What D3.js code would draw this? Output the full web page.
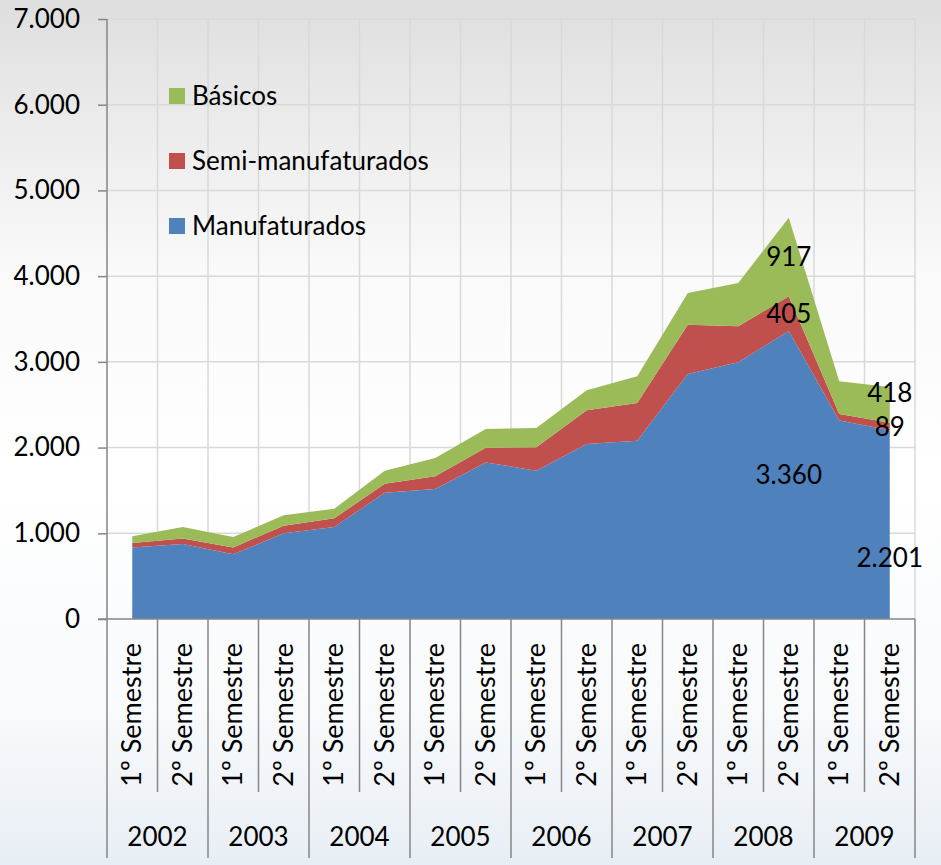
<!DOCTYPE html>
<html>
<head>
<meta charset="utf-8">
<script src="https://cdn.jsdelivr.net/npm/d3@7"></script>
<style>
  html, body { margin: 0; padding: 0; }
  body { width: 941px; height: 865px; overflow: hidden; }
  svg text { font-family: Lato, "Open Sans", sans-serif; fill: #000; }
</style>
</head>
<body>
<div id="chart"></div>
<script>
// semesters 2002..2009
var years = ["2002", "2003", "2004", "2005", "2006", "2007", "2008", "2009"];
var semesters = ["1º Semestre", "2º Semestre"];

var manufaturados = [835, 875, 754, 999, 1073, 1474, 1517, 1827, 1731, 2042, 2081, 2859, 2994, 3360, 2317, 2201];
var semiManufaturados = [52, 65, 81, 90, 101, 105, 147, 172, 272, 392, 439, 575, 420, 405, 75, 89];
var basicos = [77, 133, 122, 120, 113, 151, 215, 218, 226, 234, 311, 370, 507, 917, 381, 418];

var yTicks = [0, 1000, 2000, 3000, 4000, 5000, 6000, 7000];
var labelPoints = [13, 15];   // points with data labels

var seriesNames = ["Manufaturados", "Semi-manufaturados", "Básicos"];
var colors = ["#4f81bd", "#c0504d", "#9bbb59"];

var W = 941, H = 865;
var margin = {top: 19, right: 26, bottom: 246, left: 107};
var width = W - margin.left - margin.right,
    height = H - margin.top - margin.bottom;

var pt = d3.formatLocale({decimal: ",", thousands: ".", grouping: [3], currency: ["", ""]});
var fmt = pt.format(",d");

// build table rows
var cats = [];
years.forEach(function(y) {
    semesters.forEach(function(s) { cats.push(y + " " + s); });
});
var rows = cats.map(function(c, i) {
    return {cat: c, sem: semesters[i % 2], m: manufaturados[i], s: semiManufaturados[i], b: basicos[i]};
});

var svg = d3.select("#chart").append("svg")
    .attr("width", W)
    .attr("height", H);

// background
var grad = svg.append("defs").append("linearGradient")
    .attr("id", "bg").attr("x1", 0).attr("y1", 0).attr("x2", 0).attr("y2", 1);
[[0, "#dedede"], [0.14, "#ebebeb"], [0.32, "#fafafa"], [0.55, "#ffffff"], [0.82, "#f8fafc"], [1, "#e8eef5"]]
    .forEach(function(s) { grad.append("stop").attr("offset", s[0]).attr("stop-color", s[1]); });
svg.append("rect").attr("width", W).attr("height", H).attr("fill", "url(#bg)");

var g = svg.append("g")
    .attr("transform", "translate(" + margin.left + "," + margin.top + ")");

var x = d3.scaleBand().domain(cats).range([0, width]).padding(0);
var y = d3.scaleLinear().domain([0, 7000]).range([height, 0]);
var cx = function(c) { return x(c) + x.bandwidth() / 2; };

// gridlines
g.append("g").selectAll("line.h")
    .data(yTicks.slice(1)).enter().append("line")
    .attr("x1", 0).attr("x2", width)
    .attr("y1", function(d) { return y(d); }).attr("y2", function(d) { return y(d); })
    .attr("stroke", "#d9d9d9").attr("stroke-width", 1.5);
var bounds = cats.map(function(c) { return x(c); }).concat([width]);
g.append("g").selectAll("line.v")
    .data(bounds.slice(1)).enter().append("line")
    .attr("x1", function(d) { return d; }).attr("x2", function(d) { return d; })
    .attr("y1", 0).attr("y2", height)
    .attr("stroke", "#d9d9d9").attr("stroke-width", 1.5);

// stacked areas
var stack = d3.stack().keys(["m", "s", "b"]);
var layers = stack(rows);
var area = d3.area()
    .x(function(d) { return cx(d.data.cat); })
    .y0(function(d) { return y(d[0]); })
    .y1(function(d) { return y(d[1]); });

g.selectAll("path.layer")
    .data(layers).enter().append("path")
    .attr("class", "layer")
    .attr("d", area)
    .attr("fill", function(d, i) { return colors[i]; });

// y axis
var yAxis = g.append("g")
    .call(d3.axisLeft(y).tickValues(yTicks).tickFormat(fmt).tickSize(9).tickPadding(18));
yAxis.select(".domain").remove();
yAxis.selectAll(".tick line").attr("stroke", "#868686").attr("stroke-width", 1.5);
yAxis.selectAll(".tick text").style("font-size", "26px").style("font-family", "Lato, sans-serif");
g.append("line").attr("x1", 0).attr("x2", 0).attr("y1", 0).attr("y2", height + 239)
    .attr("stroke", "#868686").attr("stroke-width", 1.5);

// x axis with two level categories
g.append("line").attr("x1", -9).attr("x2", width).attr("y1", height).attr("y2", height)
    .attr("stroke", "#868686").attr("stroke-width", 1.5);
g.append("g").selectAll("line.cat")
    .data(bounds.slice(1)).enter().append("line")
    .attr("x1", function(d) { return d; }).attr("x2", function(d) { return d; })
    .attr("y1", height)
    .attr("y2", function(d, i) { return (i % 2 === 1) ? height + 239 : height + 173; })
    .attr("stroke", "#868686").attr("stroke-width", 1.5);

g.append("g").selectAll("text.sem")
    .data(rows).enter().append("text")
    .attr("transform", function(d) { return "translate(" + (cx(d.cat) + 9) + "," + (height + 24) + ") rotate(-90)"; })
    .attr("text-anchor", "end")
    .style("font-size", "27px")
    .text(function(d) { return d.sem; });

g.append("g").selectAll("text.year")
    .data(years).enter().append("text")
    .attr("x", function(d, i) { return x(cats[i * 2 + 1]); })
    .attr("y", height + 227)
    .attr("text-anchor", "middle")
    .style("font-size", "26px")
    .text(function(d) { return d; });

// data labels (centre of each band, last point nudged like the original)
var nudge = {"15-0": 33, "15-2": -12};
labelPoints.forEach(function(p) {
    layers.forEach(function(layer, k) {
        var d = layer[p];
        var ly = (y(d[0]) + y(d[1])) / 2 + (nudge[p + "-" + k] || 0);
        g.append("text")
            .attr("x", cx(d.data.cat))
            .attr("y", ly)
            .attr("dy", "0.35em")
            .attr("text-anchor", "middle")
            .style("font-size", "26px")
            .text(fmt(d[1] - d[0]));
    });
});

// legend
var legend = g.append("g").attr("transform", "translate(62,69)");
var legendOrder = [2, 1, 0];
legendOrder.forEach(function(k, i) {
    var row = legend.append("g").attr("transform", "translate(0," + (i * 65) + ")");
    row.append("rect").attr("width", 16).attr("height", 16).attr("fill", colors[k]);
    row.append("text").attr("x", 23).attr("y", 8).attr("dy", "0.35em")
        .style("font-size", "26px").text(seriesNames[k]);
});
</script>
</body>
</html>
